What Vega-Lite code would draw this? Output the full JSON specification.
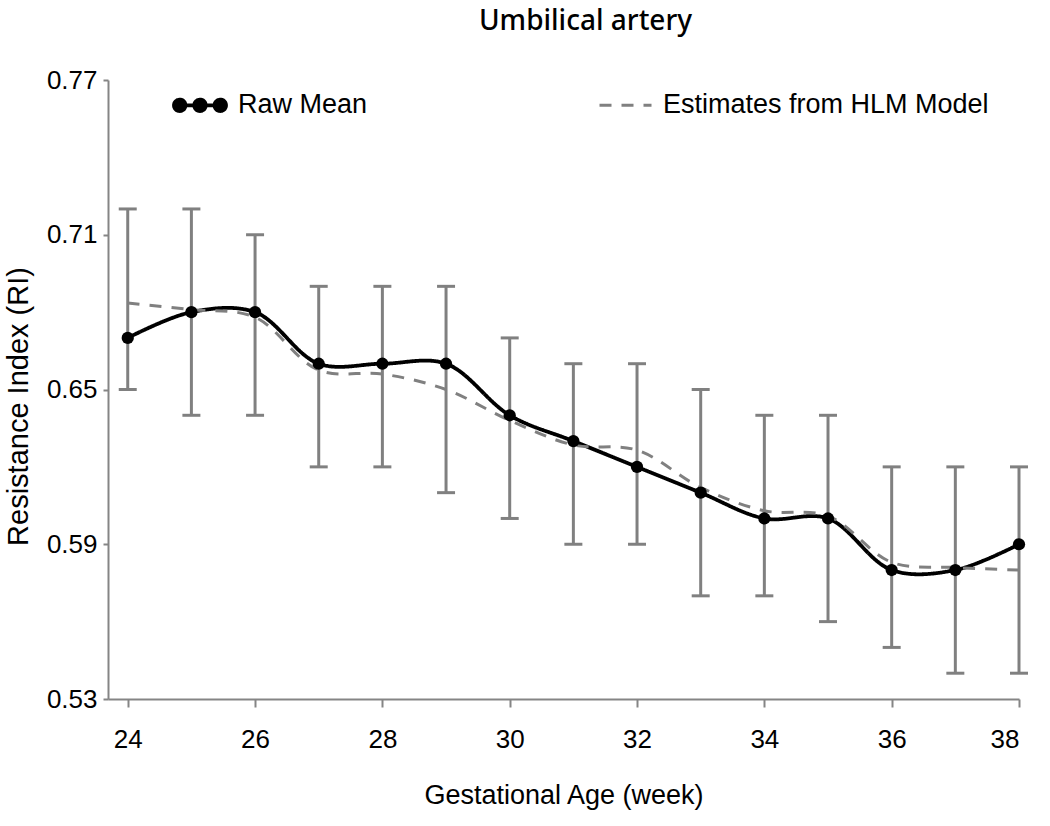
{
  "$schema": "https://vega.github.io/schema/vega-lite/v6.json",
  "width": 911,
  "height": 619,
  "autosize": "none",
  "padding": {"left": 108, "top": 80, "right": 31, "bottom": 127},
  "background": "white",
  "title": {
    "text": "Umbilical artery",
    "font": "Noto Sans",
    "fontSize": 28,
    "fontWeight": 500,
    "color": "black",
    "anchor": "middle",
    "frame": "group",
    "dx": 22,
    "offset": 31
  },
  "datasets": {
    "stats": [
      {"week": 24, "mean": 0.670, "lo": 0.650, "hi": 0.720},
      {"week": 25, "mean": 0.680, "lo": 0.640, "hi": 0.720},
      {"week": 26, "mean": 0.680, "lo": 0.640, "hi": 0.710},
      {"week": 27, "mean": 0.660, "lo": 0.620, "hi": 0.690},
      {"week": 28, "mean": 0.660, "lo": 0.620, "hi": 0.690},
      {"week": 29, "mean": 0.660, "lo": 0.610, "hi": 0.690},
      {"week": 30, "mean": 0.640, "lo": 0.600, "hi": 0.670},
      {"week": 31, "mean": 0.630, "lo": 0.590, "hi": 0.660},
      {"week": 32, "mean": 0.620, "lo": 0.590, "hi": 0.660},
      {"week": 33, "mean": 0.610, "lo": 0.570, "hi": 0.650},
      {"week": 34, "mean": 0.600, "lo": 0.570, "hi": 0.640},
      {"week": 35, "mean": 0.600, "lo": 0.560, "hi": 0.640},
      {"week": 36, "mean": 0.580, "lo": 0.550, "hi": 0.620},
      {"week": 37, "mean": 0.580, "lo": 0.540, "hi": 0.620},
      {"week": 38, "mean": 0.590, "lo": 0.540, "hi": 0.620}
    ],
    "lines": [
      {"week": 24, "series": "Raw Mean", "value": 0.670},
      {"week": 25, "series": "Raw Mean", "value": 0.680},
      {"week": 26, "series": "Raw Mean", "value": 0.680},
      {"week": 27, "series": "Raw Mean", "value": 0.660},
      {"week": 28, "series": "Raw Mean", "value": 0.660},
      {"week": 29, "series": "Raw Mean", "value": 0.660},
      {"week": 30, "series": "Raw Mean", "value": 0.640},
      {"week": 31, "series": "Raw Mean", "value": 0.630},
      {"week": 32, "series": "Raw Mean", "value": 0.620},
      {"week": 33, "series": "Raw Mean", "value": 0.610},
      {"week": 34, "series": "Raw Mean", "value": 0.600},
      {"week": 35, "series": "Raw Mean", "value": 0.600},
      {"week": 36, "series": "Raw Mean", "value": 0.580},
      {"week": 37, "series": "Raw Mean", "value": 0.580},
      {"week": 38, "series": "Raw Mean", "value": 0.590},
      {"week": 24, "series": "Estimates from HLM Model", "value": 0.6835},
      {"week": 25, "series": "Estimates from HLM Model", "value": 0.681},
      {"week": 26, "series": "Estimates from HLM Model", "value": 0.678},
      {"week": 27, "series": "Estimates from HLM Model", "value": 0.6575},
      {"week": 28, "series": "Estimates from HLM Model", "value": 0.656},
      {"week": 29, "series": "Estimates from HLM Model", "value": 0.650},
      {"week": 30, "series": "Estimates from HLM Model", "value": 0.638},
      {"week": 31, "series": "Estimates from HLM Model", "value": 0.6285},
      {"week": 32, "series": "Estimates from HLM Model", "value": 0.6265},
      {"week": 33, "series": "Estimates from HLM Model", "value": 0.612},
      {"week": 34, "series": "Estimates from HLM Model", "value": 0.603},
      {"week": 35, "series": "Estimates from HLM Model", "value": 0.601},
      {"week": 36, "series": "Estimates from HLM Model", "value": 0.583},
      {"week": 37, "series": "Estimates from HLM Model", "value": 0.581},
      {"week": 38, "series": "Estimates from HLM Model", "value": 0.580}
    ]
  },
  "encoding": {
    "x": {
      "field": "week",
      "type": "quantitative",
      "scale": {"domain": [23.69, 38], "nice": false, "zero": false},
      "axis": {
        "values": [24, 26, 28, 30, 32, 34, 36, 38],
        "title": "Gestational Age (week)",
        "grid": false,
        "tickSize": 8,
        "labelPadding": 19,
        "titlePadding": 30
      }
    }
  },
  "layer": [
    {
      "data": {"name": "stats"},
      "mark": {"type": "rule", "color": "#808080", "strokeWidth": 3},
      "encoding": {
        "y": {
          "field": "lo",
          "type": "quantitative",
          "scale": {"domain": [0.53, 0.77], "nice": false, "zero": false},
          "axis": {
            "values": [0.53, 0.59, 0.65, 0.71, 0.77],
            "format": ".2f",
            "title": "Resistance Index (RI)",
            "titleFontSize": 29,
            "titleY": 326,
            "grid": false,
            "tickSize": 5,
            "labelPadding": 6,
            "titlePadding": 13
          }
        },
        "y2": {"field": "hi"}
      }
    },
    {
      "data": {"name": "stats"},
      "mark": {"type": "tick", "orient": "horizontal", "color": "#808080", "thickness": 3, "size": 18, "opacity": 1},
      "encoding": {"y": {"field": "lo", "type": "quantitative"}}
    },
    {
      "data": {"name": "stats"},
      "mark": {"type": "tick", "orient": "horizontal", "color": "#808080", "thickness": 3, "size": 18, "opacity": 1},
      "encoding": {"y": {"field": "hi", "type": "quantitative"}}
    },
    {
      "data": {"name": "lines"},
      "mark": {"type": "line", "interpolate": "catmull-rom"},
      "encoding": {
        "y": {"field": "value", "type": "quantitative"},
        "strokeWidth": {
          "field": "series",
          "type": "nominal",
          "scale": {"domain": ["Raw Mean", "Estimates from HLM Model"], "range": [3.8, 3]},
          "legend": null
        },
        "color": {
          "field": "series",
          "type": "nominal",
          "scale": {"domain": ["Raw Mean", "Estimates from HLM Model"], "range": ["#000000", "#808080"]},
          "legend": {
            "title": null,
            "orient": "none",
            "direction": "horizontal",
            "legendX": 64,
            "legendY": -3,
            "columnPadding": 225,
            "symbolSize": 2704,
            "symbolStrokeWidth": 3,
            "labelFontSize": 27,
            "labelOffset": 10,
            "labelLimit": 600,
            "labelColor": "black",
            "labelFont": "Liberation Sans",
            "encode": {
              "symbols": {
                "update": {
                  "shape": {"signal": "datum.value === 'Raw Mean' ? 'M-1,0L1,0M-1,0a0.22,0.22 0 1,0 0.44,0a0.22,0.22 0 1,0 -0.44,0M-0.22,0a0.22,0.22 0 1,0 0.44,0a0.22,0.22 0 1,0 -0.44,0M0.56,0a0.22,0.22 0 1,0 0.44,0a0.22,0.22 0 1,0 -0.44,0' : 'stroke'"},
                  "fill": {"signal": "datum.value === 'Raw Mean' ? 'black' : 'transparent'"}
                }
              }
            }
          }
        },
        "strokeDash": {
          "field": "series",
          "type": "nominal",
          "scale": {"domain": ["Raw Mean", "Estimates from HLM Model"], "range": [[1, 0], [12, 10]]}
        }
      }
    },
    {
      "data": {"name": "stats"},
      "mark": {"type": "point", "filled": true, "color": "black", "size": 150, "opacity": 1},
      "encoding": {"y": {"field": "mean", "type": "quantitative"}}
    }
  ],
  "config": {
    "view": {"stroke": null},
    "axis": {
      "domainColor": "#858585",
      "domainWidth": 2,
      "tickColor": "#858585",
      "tickWidth": 2,
      "labelColor": "black",
      "labelFont": "Liberation Sans",
      "labelFontSize": 26,
      "titleColor": "black",
      "titleFont": "Liberation Sans",
      "titleFontSize": 27,
      "titleFontWeight": "normal"
    }
  }
}
